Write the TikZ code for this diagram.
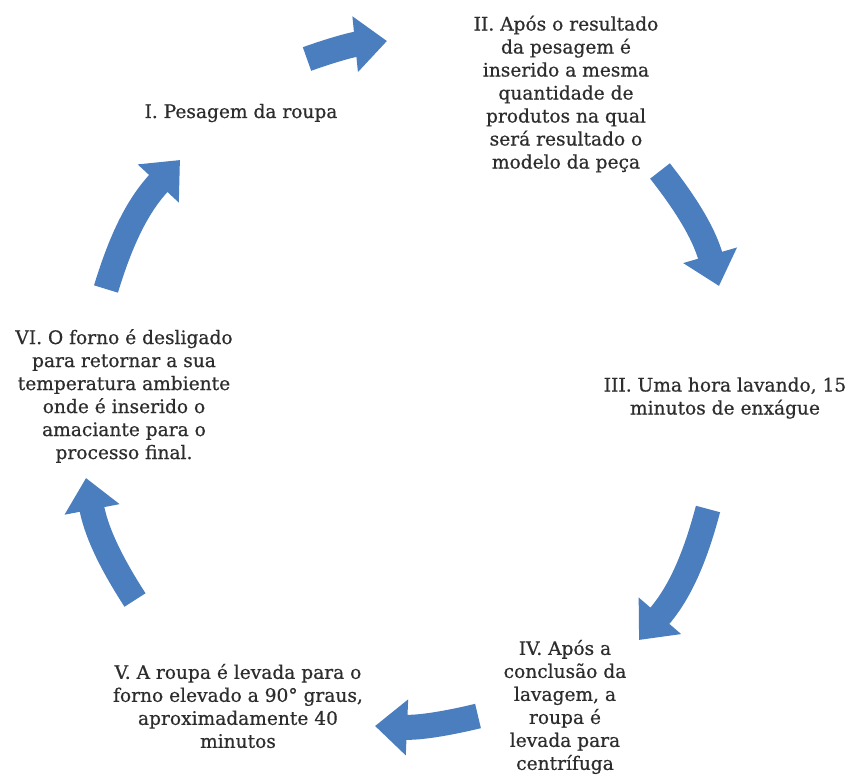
\documentclass[tikz,border=0pt]{standalone}
\usepackage{fontspec}
\setmainfont{DejaVu Serif}
\newfontfamily\lblfont[FakeBold=0.6]{DejaVu Serif}
\usetikzlibrary{arrows.meta}
\definecolor{arr}{RGB}{74,126,190}
\definecolor{txt}{RGB}{45,45,45}
\begin{document}
\begin{tikzpicture}[x=1pt,y=-1pt,
  lbl/.style={align=center, text=txt, font=\lblfont\fontsize{18.6}{23}\selectfont, inner sep=0pt},
  cyc/.style={draw=arr, line width=25pt, -{Triangle[width=54pt,length=32pt]}}]
\useasboundingbox[fill=white] (0,0) rectangle (857,776);
% text nodes
\node[lbl] (t1) at (241,113) {I. Pesagem da roupa};
\node[lbl] (t2) at (566,94) {II. Após o resultado\\da pesagem é\\inserido a mesma\\quantidade de\\produtos na qual\\será resultado o\\modelo da peça};
\node[lbl] (t3) at (725,398) {III. Uma hora lavando, 15\\minutos de enxágue};
\node[lbl] (t4) at (565,707) {IV. Após a\\conclusão da\\lavagem, a\\roupa é\\levada para\\centrífuga};
\node[lbl] (t5) at (238,706) {V. A roupa é levada para o\\forno elevado a 90° graus,\\aproximadamente 40\\minutos};
\node[lbl] (t6) at (124,396) {VI. O forno é desligado\\para retornar a sua\\temperatura ambiente\\onde é inserido o\\amaciante para o\\processo final.};
% arrow end points
\coordinate (a1s) at (307,59);
\coordinate (a1e) at (387,41);
\coordinate (a2s) at (660,171);
\coordinate (a2e) at (719,286);
\coordinate (a3s) at (708,509);
\coordinate (a3e) at (639,640);
\coordinate (a4s) at (478,716);
\coordinate (a4e) at (375,726);
\coordinate (a5s) at (135,600);
\coordinate (a5e) at (86,478);
\coordinate (a6s) at (106,289);
\coordinate (a6e) at (180,160);
\draw[cyc] (a1s) to[bend left=7] (a1e);
\draw[cyc] (a2s) to[bend left=11] (a2e);
\draw[cyc] (a3s) to[bend left=13] (a3e);
\draw[cyc] (a4s) to[bend left=8] (a4e);
\draw[cyc] (a5s) to[bend left=11] (a5e);
\draw[cyc] (a6s) to[bend left=13] (a6e);
\end{tikzpicture}
\end{document}
